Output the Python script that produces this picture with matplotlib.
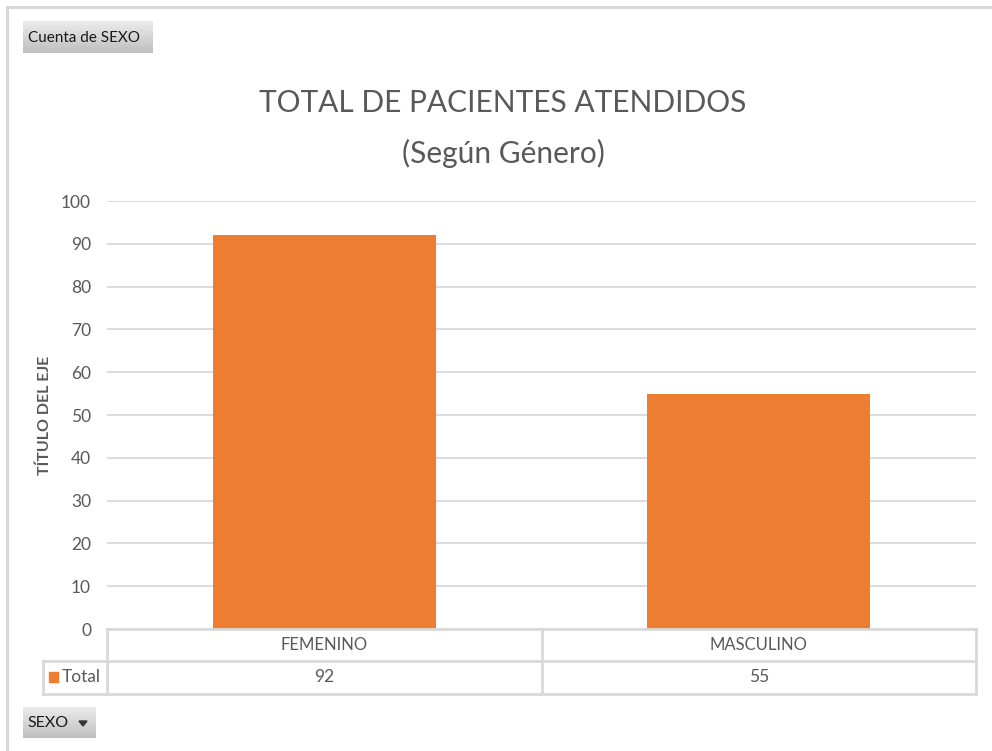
import matplotlib
matplotlib.use("Agg")
import matplotlib.pyplot as plt
import numpy as np
from matplotlib.patches import Rectangle, Polygon
from matplotlib.lines import Line2D

categories = ["FEMENINO", "MASCULINO"]
values = [92, 55]
series_name = "Total"
yticks = [0, 10, 20, 30, 40, 50, 60, 70, 80, 90, 100]
title1 = "TOTAL DE PACIENTES ATENDIDOS"
title2 = "(Según Género)"
ylabel = "TÍTULO DEL EJE"

W, H = 992, 751
DPI = 100
plt.rcParams['font.family'] = ['Lato', 'DejaVu Sans']
TXT = "#595959"
GRID = "#d9d9d9"
ORANGE = "#ed7d31"

fig = plt.figure(figsize=(W / DPI, H / DPI), dpi=DPI)
fig.patch.set_facecolor("white")

def fx(px):
    return px / W

def fy(py):
    return 1 - py / H

# main axes: x 107..976, y 201..629
L, R, T, B = 107, 976, 201, 629
ax = fig.add_axes([fx(L), fy(B), fx(R) - fx(L), fy(T) - fy(B)])
x = np.arange(len(categories))
ax.bar(x, values, width=0.513, color=ORANGE, zorder=3)
ax.set_xlim(-0.5, len(categories) - 0.5)
ax.set_ylim(0, 100)
ax.set_yticks(yticks)
ax.set_yticklabels([str(t) for t in yticks], fontsize=12.5, color=TXT)
ax.tick_params(axis="y", length=0, pad=11.5)
ax.set_xticks([])
for s in ax.spines.values():
    s.set_visible(False)
ax.yaxis.grid(True, color=GRID, linewidth=1.3, zorder=0)
ax.set_axisbelow(True)
ax.set_ylabel(ylabel, fontsize=11.5, fontweight="bold", color=TXT)
ax.yaxis.set_label_coords((52 - L) / (R - L), 0.5)

# data table below axes
ah = B - T
r1 = -32 / ah
r2 = -65 / ah
leftv = (43 - L) / (R - L)
tc = dict(color=GRID, linewidth=2, clip_on=False, zorder=5)
ax.plot([0, 1], [0, 0], transform=ax.transAxes, **tc)
ax.plot([leftv, 1], [r1, r1], transform=ax.transAxes, **tc)
ax.plot([leftv, 1], [r2, r2], transform=ax.transAxes, **tc)
ax.plot([0, 0], [0, r2], transform=ax.transAxes, **tc)
ax.plot([1, 1], [0, r2], transform=ax.transAxes, **tc)
ax.plot([leftv, leftv], [r1, r2], transform=ax.transAxes, **tc)
xt = ax.get_xaxis_transform()
for i in range(len(categories) - 1):
    ax.plot([i + 0.5, i + 0.5], [0, r2], transform=xt, **tc)
for i, (c, v) in enumerate(zip(categories, values)):
    ax.text(i, r1 / 2, c, transform=xt, ha="center", va="center",
            fontsize=12, color=TXT, clip_on=False)
    ax.text(i, (r1 + r2) / 2, str(v), transform=xt, ha="center", va="center",
            fontsize=12.5, color=TXT, clip_on=False)
ax.add_patch(Rectangle((fx(49), fy(682)), fx(58) - fx(49), fy(672) - fy(682),
                       transform=fig.transFigure, color=ORANGE, clip_on=False))
fig.text(fx(62), fy(677), series_name, ha="left", va="center", fontsize=12.5, color=TXT)

# titles
fig.text(fx(503), fy(112), title1, ha="center", va="baseline", fontsize=21.5,
         color=TXT)
fig.text(fx(503), fy(163), title2, ha="center", va="baseline", fontsize=21.5,
         color=TXT)

# outer frame (top and left)
fig.add_artist(Line2D([fx(7), 1], [fy(6.5), fy(6.5)], color=GRID, linewidth=2.2))
fig.add_artist(Line2D([fx(7), fx(7)], [fy(6.5), 0], color=GRID, linewidth=2.2))

def button(x0, y0, x1, y1):
    grad = np.linspace(0, 1, 64).reshape(-1, 1)
    bax = fig.add_axes([fx(x0), fy(y1), fx(x1) - fx(x0), fy(y0) - fy(y1)])
    bax.imshow(grad, aspect="auto", cmap=matplotlib.colors.LinearSegmentedColormap.from_list(
        "g", ["#ececec", "#bfbfbf"]), extent=[0, 1, 0, 1], origin="upper")
    bax.set_axis_off()
    return bax

button(23, 21, 153, 53)
fig.text(fx(28), fy(38), "Cuenta de SEXO", ha="left", va="center", fontsize=11, color="#1a1a1a")
button(23, 707, 96, 738)
fig.text(fx(27), fy(723), "SEXO", ha="left", va="center", fontsize=11.5, color="#1a1a1a")
fig.add_artist(Polygon([[fx(79), fy(721)], [fx(87), fy(721)], [fx(83), fy(726)]],
                       closed=True, color="#333333", transform=fig.transFigure))

fig.savefig("out.png", dpi=DPI)
